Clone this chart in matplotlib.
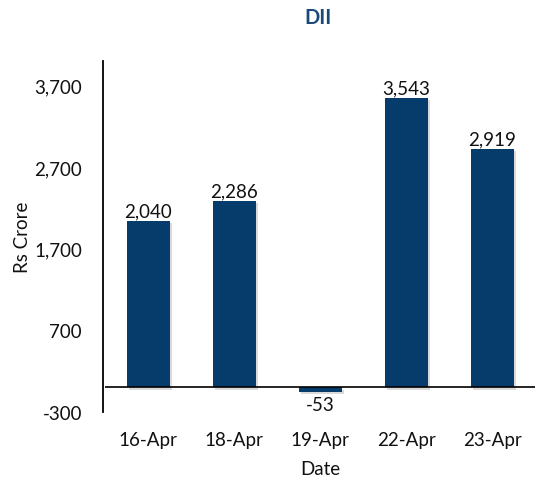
import matplotlib
matplotlib.use("Agg")
import matplotlib.pyplot as plt
import matplotlib.patheffects as pe
from matplotlib.ticker import FuncFormatter, FixedLocator

dates = ["16-Apr", "18-Apr", "19-Apr", "22-Apr", "23-Apr"]
values = [2040, 2286, -53, 3543, 2919]
yticks = [-300, 700, 1700, 2700, 3700]

plt.rcParams['font.family'] = ['Lato', 'DejaVu Sans']
FS = 13.5

fig = plt.figure(figsize=(5.4, 4.85), dpi=100)
ax = fig.add_axes([105 / 540, 0.1485, 430 / 540, 0.7235])

bar_color = "#053C6B"
x = range(len(dates))
bars = ax.bar(x, values, width=0.5, color=bar_color, zorder=3)
for b in bars:
    b.set_path_effects([pe.SimplePatchShadow(offset=(1.5, -1.5), alpha=0.18, shadow_rgbFace="#333333"), pe.Normal()])

for xi, v in zip(x, values):
    if v >= 0:
        ax.text(xi, v + 25, f"{v:,}", ha="center", va="bottom", fontsize=FS, color="#111111")
    else:
        ax.text(xi, v - 50, f"{v:,}", ha="center", va="top", fontsize=FS, color="#111111")

ax.axhline(0, color="black", linewidth=1.2, zorder=4)
ax.set_xlim(-0.5, len(dates) - 0.5)
ax.set_ylim(-300, 4000)
ax.yaxis.set_major_locator(FixedLocator(yticks))
ax.yaxis.set_major_formatter(FuncFormatter(lambda v, p: f"{int(v):,}"))
ax.set_xticks(list(x))
ax.set_xticklabels(dates)

for s in ["top", "right", "bottom"]:
    ax.spines[s].set_visible(False)
ax.spines["left"].set_linewidth(1.3)
ax.spines["left"].set_color("black")
ax.spines["left"].set_position(("outward", 1.5))
ax.tick_params(axis="both", length=0, labelsize=FS, colors="#111111")
ax.tick_params(axis="y", pad=15)
ax.tick_params(axis="x", pad=14)

ax.set_xlabel("Date", fontsize=FS, color="#111111")
ax.set_ylabel("Rs Crore", fontsize=FS, color="#111111")
ax.xaxis.set_label_coords(0.5, -0.162)
ax.yaxis.set_label_coords(-0.193, 0.5)
ax.xaxis.label.set_va("center")
ax.yaxis.label.set_va("center")
fig.text(0.589, 0.962, "DII", ha="center", va="center", fontsize=14.5, fontweight="bold", color="#1B4A7A")

fig.savefig("out.png", dpi=100)
